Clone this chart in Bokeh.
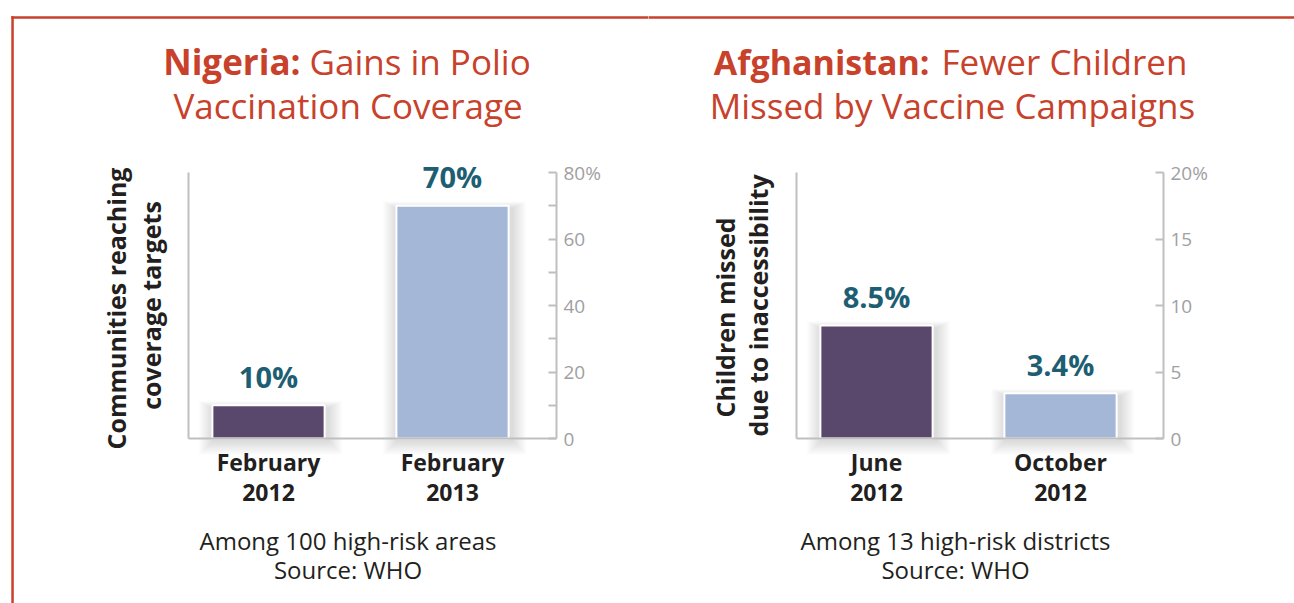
import math
from bokeh.plotting import figure
from bokeh.models import Range1d, FixedTicker, LinearAxis, BoxAnnotation
from bokeh.layouts import row
from bokeh.core.properties import value
from bokeh.embed import file_html
from bokeh.resources import INLINE

# ---------------- data ----------------
nigeria_periods = ["February\n2012", "February\n2013"]
nigeria_values = [10, 70]
nigeria_ticks = [0, 20, 40, 60, 80]
nigeria_minor = [10, 30, 50, 70]

afghan_periods = ["June\n2012", "October\n2012"]
afghan_values = [8.5, 3.4]
afghan_ticks = [0, 5, 10, 15, 20]
afghan_minor = []

bar_colors = ["#5a486c", "#a4b7d7"]

# ---------------- style ----------------
FONT = "Open Sans"
RED = "#c8412b"
DARK = "#231f20"
TEAL = "#1d5e72"
GRAY = "#bfbfbf"
TICKTXT = "#a0a0a2"

FIG_H = 603
FRAME_TOP, FRAME_BOTTOM = 172, 438   # plot area, page px
PPU = 184.0           # px per category step
FIRST_OFFSET = 80.0   # px from plot-area left to first bar centre
BAR_W = 0.61
BASE_FIX = 0.41       # baseline correction (fraction of font size)


def panel(fig_x0, fig_w, fl, fr, periods, values, ticks, minor,
          t_bold, t_rest, t_line2, bold_end, rest_start, line2_c, bold_size,
          ylab, ylab_x, ylab_yc, notes, notes_c, left_border):
    ymax = ticks[-1]
    xs = -FIRST_OFFSET / PPU

    def X(px):
        return xs + (px - fl) / PPU

    def Y(py):
        return (FRAME_BOTTOM - py) / (FRAME_BOTTOM - FRAME_TOP) * ymax

    ypp = ymax / (FRAME_BOTTOM - FRAME_TOP)  # data units per px

    p = figure(width=fig_w, height=FIG_H, output_backend="svg", toolbar_location=None,
               x_range=Range1d(X(fig_x0), X(fig_x0 + fig_w)),
               y_range=Range1d(Y(FIG_H), Y(0)),
               x_axis_location=None, y_axis_location=None,
               min_border=0, min_border_left=0, min_border_right=0,
               min_border_top=0, min_border_bottom=0)
    p.outline_line_color = None
    p.background_fill_color = "white"
    p.border_fill_color = "white"
    p.xgrid.visible = False
    p.ygrid.visible = False

    idx = list(range(len(values)))

    # soft shadows
    for k in range(1, 8):
        e = 2.0 * k
        p.quad(left=[i - BAR_W / 2 - (e - 1) / PPU for i in idx],
               right=[i + BAR_W / 2 + (e + 3) / PPU for i in idx],
               top=[v + (0.5 * e - 3) * ypp for v in values],
               bottom=[-(e + 2) * ypp for _ in idx],
               fill_color="black", fill_alpha=0.018, line_color=None)

    p.vbar(x=idx, top=values, width=BAR_W, bottom=0, fill_color=bar_colors,
           line_color="white", line_width=2)
    p.text(x=idx, y=[v + (17 + BASE_FIX * 29) * ypp for v in values],
           text=[f"{v:g}%" for v in values],
           text_align="center", text_baseline="alphabetic",
           text_font=value(FONT), text_font_style="bold", text_font_size="29px",
           text_color=TEAL)

    # right axis (ticks)
    ax = LinearAxis(fixed_location=X(fr), bounds=(0, ymax),
                    ticker=FixedTicker(ticks=ticks, minor_ticks=minor),
                    major_label_overrides={ticks[-1]: f"{ticks[-1]}%"},
                    axis_line_color=GRAY, axis_line_width=2,
                    major_tick_line_color=GRAY, major_tick_line_width=2,
                    minor_tick_line_color=GRAY, minor_tick_line_width=2,
                    major_tick_in=8, major_tick_out=0, minor_tick_in=8, minor_tick_out=0,
                    major_label_standoff=7, major_label_text_font=FONT,
                    major_label_text_font_size="19px", major_label_text_color=TICKTXT)
    p.add_layout(ax, "right")

    # left plain line
    la = LinearAxis(fixed_location=X(fl), bounds=(0, ymax),
                    ticker=FixedTicker(ticks=[]), axis_line_color=GRAY, axis_line_width=2,
                    major_tick_line_color=None, minor_tick_line_color=None,
                    major_label_text_font_size="0px")
    p.add_layout(la, "left")

    # bottom axis with categories
    xa = LinearAxis(fixed_location=0, bounds=(X(fl), X(fr)),
                    ticker=FixedTicker(ticks=idx),
                    major_label_overrides={i: periods[i] for i in idx},
                    axis_line_color=GRAY, axis_line_width=2,
                    major_tick_line_color=None, minor_tick_line_color=None,
                    major_label_standoff=1, major_label_text_font=FONT,
                    major_label_text_font_style="bold", major_label_text_font_size="23px",
                    major_label_text_color=DARK, major_label_text_line_height=0.95)
    p.add_layout(xa, "below")

    def txt(px, py, s, align, size, bold=False, color=DARK, rotated=False):
        if rotated:
            x, y, ang = X(px - BASE_FIX * size), Y(py), math.pi / 2
        else:
            x, y, ang = X(px), Y(py - BASE_FIX * size), 0.0
        p.text(x=[x], y=[y], text=[s], angle=ang, text_align=align,
               text_baseline="alphabetic", text_font=value(FONT),
               text_font_style="bold" if bold else "normal",
               text_font_size=f"{size}px", text_color=color)

    # titles
    txt(bold_end, 75, t_bold, "right", bold_size, True, RED)
    txt(rest_start, 75, t_rest, "left", 35, False, RED)
    txt(line2_c, 119, t_line2, "center", 35, False, RED)

    # rotated y label
    for line, bx, yc in zip(ylab, ylab_x, ylab_yc):
        txt(bx, yc, line, "center", 25, True, DARK, rotated=True)

    # notes
    for line, by in zip(notes, [550, 579]):
        txt(notes_c, by, line, "center", 24, False, DARK)

    # red frame lines
    p.add_layout(BoxAnnotation(left=X(10.8 if left_border else fig_x0 - 2),
                               right=X(fig_x0 + fig_w + 2),
                               top=Y(15.8), bottom=Y(18.3), fill_color=RED, fill_alpha=1,
                               line_color=None, level="overlay"))
    if left_border:
        p.add_layout(BoxAnnotation(left=X(10.8), right=X(13.3), top=Y(15.8),
                                   bottom=Y(FIG_H + 2), fill_color=RED, fill_alpha=1,
                                   line_color=None, level="overlay"))
    return p


p1 = panel(0, 648, 188, 556, nigeria_periods, nigeria_values, nigeria_ticks, nigeria_minor,
           "Nigeria:", "Gains in Polio", "Vaccination Coverage", 300, 309, 347.5, 35,
           ["Communities reaching", "coverage targets"], [126, 161], [308, 305],
           ["Among 100 high-risk areas", "Source: WHO"], 347.5, True)
p2 = panel(648, 646, 796, 1163, afghan_periods, afghan_values, afghan_ticks, afghan_minor,
           "Afghanistan:", "Fewer Children", "Missed by Vaccine Campaigns", 929, 941, 952, 34,
           ["Children missed", "due to inaccessibility"], [735, 768], [317, 305],
           ["Among 13 high-risk districts", "Source: WHO"], 955, False)

layout = row(p1, p2)
open("out.html", "w").write(file_html(layout, INLINE))
